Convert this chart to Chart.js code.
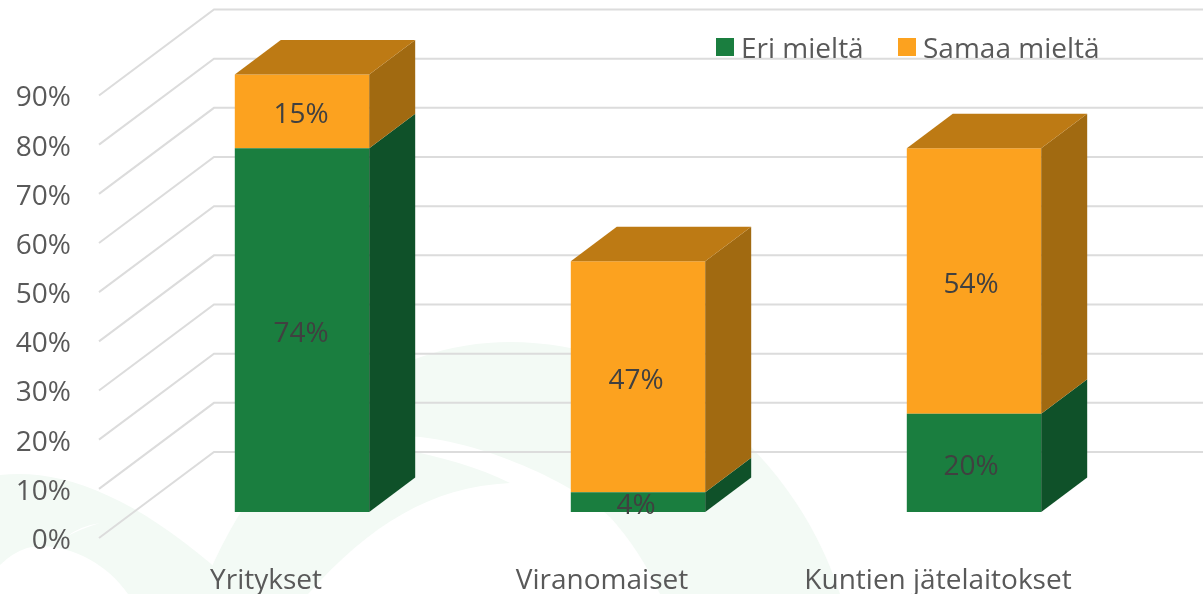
<!DOCTYPE html>
<html lang="fi">
<head>
<meta charset="utf-8">
<title>Eri mieltä / Samaa mieltä</title>
<script src="https://cdn.jsdelivr.net/npm/chart.js@4"></script>
<style>
    html, body { margin: 0; padding: 0; background: #fff; overflow: hidden; }
    .wrap { position: relative; width: 1203px; height: 594px; }
    canvas { display: block; }
    #legend { position: absolute; left: 716px; top: 28px; display: flex; font: 28px "Open Sans", sans-serif; color: #595959; line-height: 38px; }
    .legend-item { display: flex; align-items: center; }
    .legend-item:first-child { width: 182px; }
    .legend-dot { width: 18px; height: 18px; margin-right: 7px; }
</style>
</head>
<body>
<div class="wrap">
    <canvas id="cBar" width="1203" height="594"></canvas>
    <div id="legend"></div>
</div>
<script>
const categories = ["Yritykset", "Viranomaiset", "Kuntien jätelaitokset"];
const seriesNames = ["Eri mieltä", "Samaa mieltä"];
const eriMielta = [74, 4, 20];
const samaaMielta = [15, 47, 54];

const FRONT = ["#1a7e3f", "#fca21f"];
const SIDE = ["#0f5129", "#a16a11"];
const TOP = ["#146332", "#bd7a14"];
const FONT = '28px "Open Sans", sans-serif';

// depth of the fake 3d box, in px
const BOX_DX = 46;
const BOX_DY = 34.5;
// from the bar plane to the back wall and to the front edge of the floor
const WALL_DX = 80;
const WALL_DY = 60;
const FLOOR_DX = 35;
const FLOOR_DY = 26;

function poly(ctx, pts, color) {
    ctx.fillStyle = color;
    ctx.beginPath();
    pts.forEach((p, i) => i ? ctx.lineTo(p[0], p[1]) : ctx.moveTo(p[0], p[1]));
    ctx.closePath();
    ctx.fill();
}

// pale logo behind the chart
const watermark = {
    id: "watermark",
    beforeDraw(chart) {
        const ctx = chart.ctx;
        ctx.save();
        ctx.fillStyle = "#fff";
        ctx.fillRect(0, 0, chart.width, chart.height);

        ctx.fillStyle = "#f3faf5";
        ctx.beginPath();
        ctx.moveTo(0, 475);
        ctx.bezierCurveTo(60, 468, 130, 495, 210, 563);
        ctx.lineTo(242, 594);
        ctx.lineTo(128, 594);
        ctx.bezierCurveTo(105, 560, 60, 540, 27, 548);
        ctx.quadraticCurveTo(12, 553, 0, 565);
        ctx.closePath();
        ctx.fill();

        ctx.beginPath();
        ctx.moveTo(200, 594);
        ctx.bezierCurveTo(270, 420, 390, 342, 510, 342);
        ctx.bezierCurveTo(650, 342, 790, 440, 840, 594);
        ctx.closePath();
        ctx.fill();

        ctx.fillStyle = "#fff";
        ctx.beginPath();
        ctx.moveTo(308, 594);
        ctx.bezierCurveTo(370, 525, 430, 487, 510, 483);
        ctx.bezierCurveTo(480, 468, 440, 456, 400, 449);
        ctx.lineTo(400, 436);
        ctx.bezierCurveTo(470, 436, 570, 480, 610, 517);
        ctx.quadraticCurveTo(640, 550, 660, 594);
        ctx.closePath();
        ctx.fill();

        ctx.beginPath();
        ctx.moveTo(100, 523);
        ctx.quadraticCurveTo(80, 526, 66, 537);
        ctx.quadraticCurveTo(80, 529, 100, 523);
        ctx.fill();
        ctx.restore();
    }
};

// back wall lines and the diagonals on the left side
const wallGrid = {
    id: "wallGrid",
    beforeDatasetsDraw(chart) {
        const ctx = chart.ctx;
        const y = chart.scales.y;
        const left = chart.chartArea.left;
        ctx.save();
        ctx.strokeStyle = "#dcdcdc";
        ctx.lineWidth = 2;
        y.ticks.forEach(t => {
            const py = y.getPixelForValue(t.value);
            ctx.beginPath();
            ctx.moveTo(left - FLOOR_DX, py + FLOOR_DY);
            ctx.lineTo(left + WALL_DX, py - WALL_DY);
            ctx.lineTo(chart.width, py - WALL_DY);
            ctx.stroke();
        });
        ctx.restore();
    }
};

// side and top faces of each bar, then the value labels
const boxFaces = {
    id: "boxFaces",
    afterDatasetsDraw(chart) {
        const ctx = chart.ctx;
        ctx.save();
        chart.data.datasets.forEach((ds, d) => {
            chart.getDatasetMeta(d).data.forEach(bar => {
                const right = bar.x + bar.width / 2;
                const left = bar.x - bar.width / 2;
                poly(ctx, [
                    [right, bar.y],
                    [right + BOX_DX, bar.y - BOX_DY],
                    [right + BOX_DX, bar.base - BOX_DY],
                    [right, bar.base]
                ], SIDE[d]);
                if (d === chart.data.datasets.length - 1) {
                    poly(ctx, [
                        [left, bar.y],
                        [left + BOX_DX, bar.y - BOX_DY],
                        [right + BOX_DX, bar.y - BOX_DY],
                        [right, bar.y]
                    ], TOP[d]);
                }
            });
        });

        ctx.font = FONT;
        ctx.fillStyle = "#404040";
        ctx.textAlign = "center";
        ctx.textBaseline = "middle";
        chart.data.datasets.forEach((ds, d) => {
            chart.getDatasetMeta(d).data.forEach((bar, i) => {
                ctx.fillText(ds.data[i] + "%", bar.x - 1 - i, (bar.y + bar.base) / 2 + 4);
            });
        });
        ctx.restore();
    }
};

function buildLegend(containerId, labels, colors) {
    document.getElementById(containerId).innerHTML = labels.map((lbl, i) => `
        <span class="legend-item">
            <span class="legend-dot" style="background:${colors[i]}"></span>${lbl}
        </span>
    `).join("");
}

buildLegend("legend", seriesNames, FRONT);

new Chart(document.getElementById("cBar"), {
    type: "bar",
    data: {
        labels: categories,
        datasets: [
            { label: seriesNames[0], data: eriMielta, backgroundColor: FRONT[0] },
            { label: seriesNames[1], data: samaaMielta, backgroundColor: FRONT[1] }
        ]
    },
    plugins: [watermark, wallGrid, boxFaces],
    options: {
        responsive: false,
        animation: false,
        layout: { padding: { top: 69.5, right: 61 } },
        barPercentage: 0.4,
        categoryPercentage: 1,
        plugins: {
            legend: { display: false },
            tooltip: { enabled: false }
        },
        scales: {
            x: {
                stacked: true,
                grid: { display: false },
                border: { display: false },
                afterFit: s => { s.height = 82; },
                ticks: {
                    color: "#595959",
                    font: { family: "Open Sans", size: 28 },
                    maxRotation: 0,
                    autoSkip: false,
                    labelOffset: -36,
                    padding: 44
                }
            },
            y: {
                stacked: true,
                min: 0,
                max: 90,
                grid: { display: false },
                border: { display: false },
                afterFit: s => { s.width = 134; s.paddingTop = 0; },
                ticks: {
                    color: "#595959",
                    font: { family: "Open Sans", size: 28 },
                    stepSize: 10,
                    autoSkip: false,
                    labelOffset: FLOOR_DY + 3,
                    padding: 55,
                    callback: v => v + "%"
                }
            }
        }
    }
});
</script>
</body>
</html>
